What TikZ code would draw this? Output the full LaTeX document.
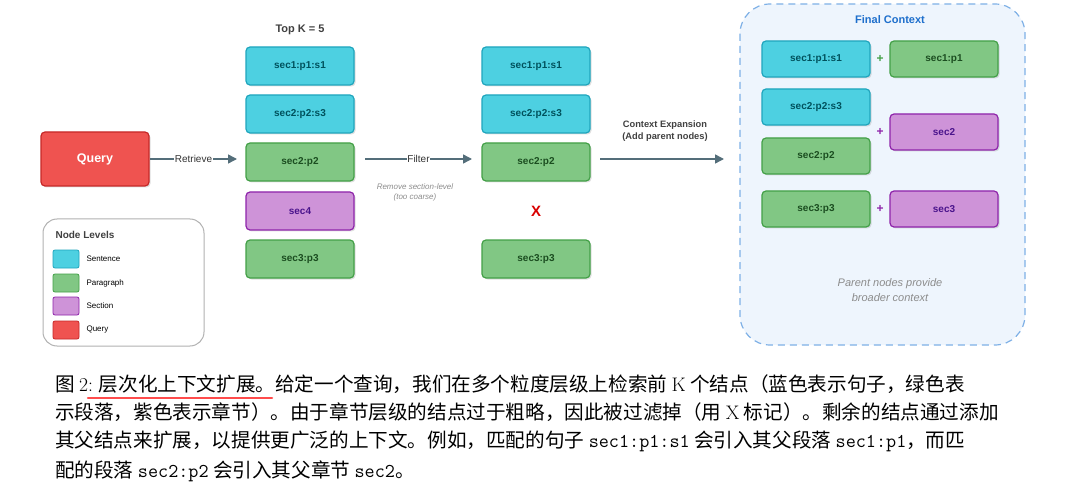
\documentclass[tikz,border=0pt]{standalone}
\usepackage{fontspec}
\newfontfamily\dsf{Liberation Sans}
\newfontfamily\cjk{Noto Sans CJK SC}
\usetikzlibrary{shadows,arrows.meta}
\definecolor{sF}{HTML}{4DD0E1}\definecolor{sD}{HTML}{1FA5BD}\definecolor{sT}{HTML}{00515C}
\definecolor{pF}{HTML}{81C784}\definecolor{pD}{HTML}{43A047}\definecolor{pT}{HTML}{1B4D20}
\definecolor{cF}{HTML}{CE93D8}\definecolor{cD}{HTML}{8E24AA}\definecolor{cT}{HTML}{4A148C}
\definecolor{qF}{HTML}{EF5350}\definecolor{qD}{HTML}{C62828}
\definecolor{ar}{HTML}{546E7A}\definecolor{fb}{HTML}{EEF5FD}\definecolor{fd}{HTML}{7EB0E6}
\definecolor{ft}{HTML}{1E6FCC}
\tikzset{
 box/.style={rounded corners=4pt,line width=1.2pt,minimum width=108pt,minimum height=38pt,font=\dsf\bfseries\fontsize{10}{11}\selectfont,drop shadow={opacity=0.25,shadow xshift=1.5pt,shadow yshift=-1.5pt}},
 sb/.style={box,fill=sF,draw=sD,text=sT},
 pb/.style={box,fill=pF,draw=pD,text=pT},
 cb/.style={box,fill=cF,draw=cD,text=cT},
 fbx/.style={minimum height=36pt},
 arr/.style={-{Triangle[length=9pt,width=9pt]},draw=ar,line width=1.5pt},
 lab/.style={fill=white,inner sep=0.5pt,font=\dsf\fontsize{10}{11}\selectfont,text=black!80},
 sw/.style={rounded corners=2pt,line width=0.8pt,minimum width=26pt,minimum height=18pt},
 lg/.style={anchor=west,font=\dsf\fontsize{8}{10}\selectfont},
 capline/.style={anchor=west,inner sep=0pt,font=\cjk\fontsize{19.6}{22}\selectfont}
}
\begin{document}
\begin{tikzpicture}[x=1pt,y=-1pt]
\useasboundingbox (0,0) rectangle (1080,500);
% final context container
\draw[fill=fb,draw=fd,line width=1.2pt,dash pattern=on 7pt off 5pt,rounded corners=30pt] (740,4) rectangle (1025,345);
\node[font=\dsf\bfseries\fontsize{11}{12}\selectfont,text=ft] (fc) at (890,20) {Final Context};
% query
\node[box,fill=qF,draw=qD,text=white,minimum height=54pt,font=\dsf\bfseries\fontsize{12.5}{13}\selectfont] (q) at (95,159) {Query};
\node[font=\dsf\bfseries\fontsize{11}{12}\selectfont,text=black!75] (tk) at (300,30) {Top K = 5};
% column 1
\node[sb] (a1) at (300,66) {sec1:p1:s1};
\node[sb] (a2) at (300,114) {sec2:p2:s3};
\node[pb] (a3) at (300,162) {sec2:p2};
\node[cb] (a4) at (300,211) {sec4};
\node[pb] (a5) at (300,259) {sec3:p3};
% column 2
\node[sb] (b1) at (536,66) {sec1:p1:s1};
\node[sb] (b2) at (536,114) {sec2:p2:s3};
\node[pb] (b3) at (536,162) {sec2:p2};
\node[text=red!85!black,font=\dsf\bfseries\fontsize{15}{15}\selectfont] (x) at (536,211) {X};
\node[pb] (b5) at (536,259) {sec3:p3};
% arrows
\coordinate (r0) at (150,159); \coordinate (r1) at (237,159);
\draw[arr] (r0) -- node[lab]{Retrieve} (r1);
\coordinate (f0) at (365,159); \coordinate (f1) at (472,159);
\draw[arr] (f0) -- node[lab]{Filter} (f1);
\node[font=\dsf\itshape\fontsize{8}{10}\selectfont,text=black!45,align=center] (rm) at (415,192) {Remove section-level\\(too coarse)};
\coordinate (e0) at (600,159); \coordinate (e1) at (724,159);
\draw[arr] (e0) -- (e1);
\node[font=\dsf\bfseries\fontsize{9.3}{12}\selectfont,text=black!75,align=center] (ce) at (665,131) {Context Expansion\\(Add parent nodes)};
% final context boxes
\node[sb,fbx] (c1) at (816,59) {sec1:p1:s1};
\node[pb,fbx] (d1) at (944,59) {sec1:p1};
\node[sb,fbx] (c2) at (816,107) {sec2:p2:s3};
\node[pb,fbx] (c3) at (816,156) {sec2:p2};
\node[cb,fbx] (d2) at (944,132) {sec2};
\node[pb,fbx] (c4) at (816,209) {sec3:p3};
\node[cb,fbx] (d4) at (944,209) {sec3};
\node[text=pD,font=\dsf\bfseries\fontsize{12}{12}\selectfont] (p1) at (880,59) {+};
\node[text=cD,font=\dsf\bfseries\fontsize{12}{12}\selectfont] (p2) at (880,132) {+};
\node[text=cD,font=\dsf\bfseries\fontsize{12}{12}\selectfont] (p3) at (880,209) {+};
\node[font=\dsf\itshape\fontsize{11}{15}\selectfont,text=black!45,align=center] (pn) at (890,290) {Parent nodes provide\\broader context};
% legend
\draw[draw=black!30,line width=1pt,fill=white,rounded corners=14pt] (43,219) rectangle (204,346);
\node[anchor=west,font=\dsf\bfseries\fontsize{10}{11}\selectfont,text=black!75] (lt) at (52,235) {Node Levels};
\node[sw,fill=sF,draw=sD] (l1) at (66,259) {}; \node[lg] at (83,259) {Sentence};
\node[sw,fill=pF,draw=pD] (l2) at (66,283) {}; \node[lg] at (83,283) {Paragraph};
\node[sw,fill=cF,draw=cD] (l3) at (66,306) {}; \node[lg] at (83,306) {Section};
\node[sw,fill=qF,draw=qD] (l4) at (66,330) {}; \node[lg] at (83,330) {Query};
% caption
\draw[red!70!white,line width=2.5pt,line cap=round] (88,398) -- (272,398);
\node[capline] (k1) at (55,384) {图 {\rmfamily 2:} 层次化上下文扩展。给定一个查询，我们在多个粒度层级上检索前 {\rmfamily K} 个结点（蓝色表示句子，绿色表};
\node[capline] (k2) at (55,412) {示段落，紫色表示章节）。由于章节层级的结点过于粗略，因此被过滤掉（用 {\rmfamily X} 标记）。剩余的结点通过添加};
\node[capline] (k3) at (55,441) {其父结点来扩展，以提供更广泛的上下文。例如，匹配的句子 {\ttfamily sec1:p1:s1} 会引入其父段落 {\ttfamily sec1:p1}，而匹};
\node[capline] (k4) at (55,471) {配的段落 {\ttfamily sec2:p2} 会引入其父章节 {\ttfamily sec2}。};
\end{tikzpicture}
\end{document}
